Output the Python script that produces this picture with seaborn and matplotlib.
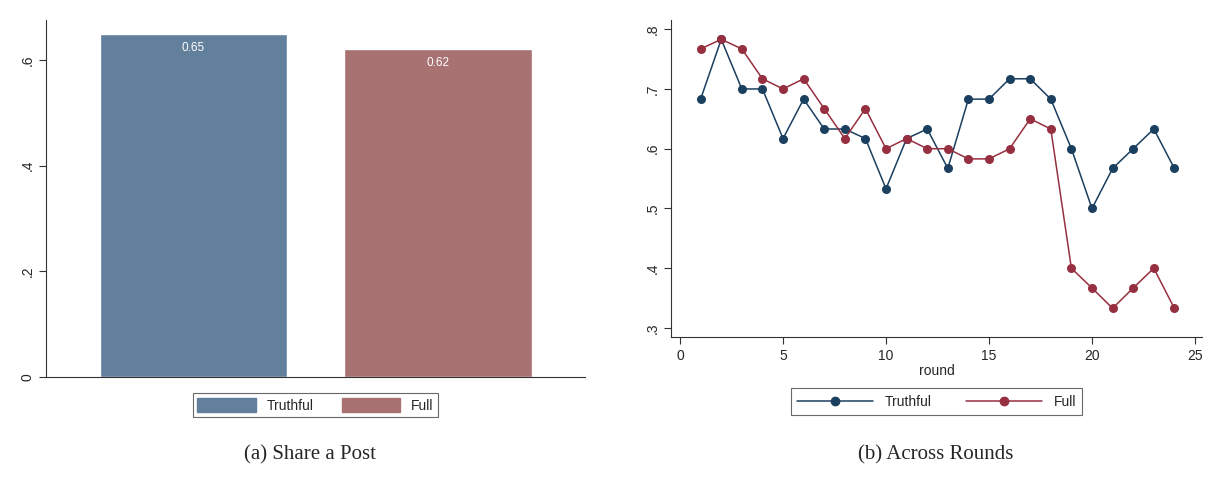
import pandas as pd
import matplotlib
matplotlib.use("Agg")
import matplotlib.pyplot as plt
from matplotlib.ticker import FuncFormatter
from matplotlib.patches import Patch
from matplotlib.lines import Line2D
import seaborn as sns

# Panel (a): share a post
treatments = ["Truthful", "Full"]
share_post = [0.65, 0.62]

# Panel (b): share across rounds
rounds = list(range(1, 25))
truthful_share = [0.683, 0.783, 0.700, 0.700, 0.617, 0.683, 0.633, 0.633,
                  0.617, 0.533, 0.617, 0.633, 0.567, 0.683, 0.683, 0.717,
                  0.717, 0.683, 0.600, 0.500, 0.567, 0.600, 0.633, 0.567]
full_share = [0.767, 0.783, 0.767, 0.717, 0.700, 0.717, 0.667, 0.617,
              0.667, 0.600, 0.617, 0.600, 0.600, 0.583, 0.583, 0.600,
              0.650, 0.633, 0.400, 0.367, 0.333, 0.367, 0.400, 0.333]

sns.set_style("white")
plt.rcParams['font.family'] = ['Liberation Sans', 'DejaVu Sans']

bar_colors = {"Truthful": "#627f9c", "Full": "#a87273"}
line_colors = {"Truthful": "#1b3f5e", "Full": "#962f3f"}


def stata_fmt(v, pos):
    if abs(v) < 1e-9:
        return "0"
    return ("%.1f" % v).lstrip("0")


fig = plt.figure(figsize=(12.14, 4.8), dpi=100)

# --- left panel
ax1 = fig.add_axes([0.0379, 0.2146, 0.444, 0.744])
df_bar = pd.DataFrame({"treatment": treatments, "share": share_post})
sns.barplot(data=df_bar, x="treatment", y="share", hue="treatment",
            palette=bar_colors, width=0.765, saturation=1, legend=False, ax=ax1)
for i, v in enumerate(share_post):
    ax1.text(i, v - 0.015, "%.2f" % v, ha="center", va="top",
             color="white", fontsize=8.5)
ax1.set_xlim(-0.603, 1.601)
ax1.set_ylim(0, 0.676)
ax1.set_yticks([0, 0.2, 0.4, 0.6])
ax1.yaxis.set_major_formatter(FuncFormatter(stata_fmt))
ax1.set_xticks([])
ax1.set_xlabel("")
ax1.set_ylabel("")
ax1.tick_params(axis="y", left=True, length=5, width=0.8, labelsize=10,
                labelrotation=90, pad=3, color="#333333")
for lbl in ax1.get_yticklabels():
    lbl.set_va("center")
for s in ["top", "right"]:
    ax1.spines[s].set_visible(False)
for s in ["left", "bottom"]:
    ax1.spines[s].set_color("#333333")
    ax1.spines[s].set_linewidth(0.8)
handles = [Patch(facecolor=bar_colors[t], edgecolor=bar_colors[t]) for t in treatments]
leg1 = ax1.legend(handles, treatments, loc="upper center",
                  bbox_to_anchor=(0.5, -0.025), ncol=2, frameon=True,
                  fancybox=False, edgecolor="#444444", fontsize=10,
                  handlelength=4.2, handleheight=1.2, columnspacing=2.0,
                  borderpad=0.35)
leg1.get_frame().set_linewidth(0.8)

# --- right panel
ax2 = fig.add_axes([0.5527, 0.2979, 0.4374, 0.660])
df_line = pd.DataFrame({
    "round": rounds + rounds,
    "share": truthful_share + full_share,
    "treatment": ["Truthful"] * len(rounds) + ["Full"] * len(rounds),
})
sns.lineplot(data=df_line, x="round", y="share", hue="treatment",
             hue_order=treatments, palette=line_colors, marker="o",
             markersize=6.5, markeredgewidth=0, linewidth=1.1,
             legend=False, ax=ax2)
ax2.set_xlim(-0.44, 25.34)
ax2.set_ylim(0.285, 0.815)
ax2.set_xticks([0, 5, 10, 15, 20, 25])
ax2.set_yticks([0.3, 0.4, 0.5, 0.6, 0.7, 0.8])
ax2.yaxis.set_major_formatter(FuncFormatter(stata_fmt))
ax2.set_xlabel("round", fontsize=10, labelpad=1)
ax2.set_ylabel("")
ax2.tick_params(axis="both", bottom=True, left=True, length=5, width=0.8,
                labelsize=10, color="#333333")
ax2.tick_params(axis="y", labelrotation=90, pad=3)
for lbl in ax2.get_yticklabels():
    lbl.set_va("center")
for s in ["top", "right"]:
    ax2.spines[s].set_visible(False)
for s in ["left", "bottom"]:
    ax2.spines[s].set_color("#333333")
    ax2.spines[s].set_linewidth(0.8)
lhandles = [Line2D([0], [0], color=line_colors[t], marker="o", markersize=6,
                   linewidth=1.1) for t in treatments]
leg2 = ax2.legend(lhandles, treatments, loc="upper center",
                  bbox_to_anchor=(0.5, -0.14), ncol=2, frameon=True,
                  fancybox=False, edgecolor="#444444", fontsize=10,
                  handlelength=5.5, columnspacing=2.5, borderpad=0.45)
leg2.get_frame().set_linewidth(0.8)

# captions
fig.text(0.255, 0.052, "(a) Share a Post", ha="center", va="center",
         fontsize=15, family=["Liberation Serif", "DejaVu Serif"])
fig.text(0.771, 0.052, "(b) Across Rounds", ha="center", va="center",
         fontsize=15, family=["Liberation Serif", "DejaVu Serif"])

fig.savefig("out.png", dpi=100)
